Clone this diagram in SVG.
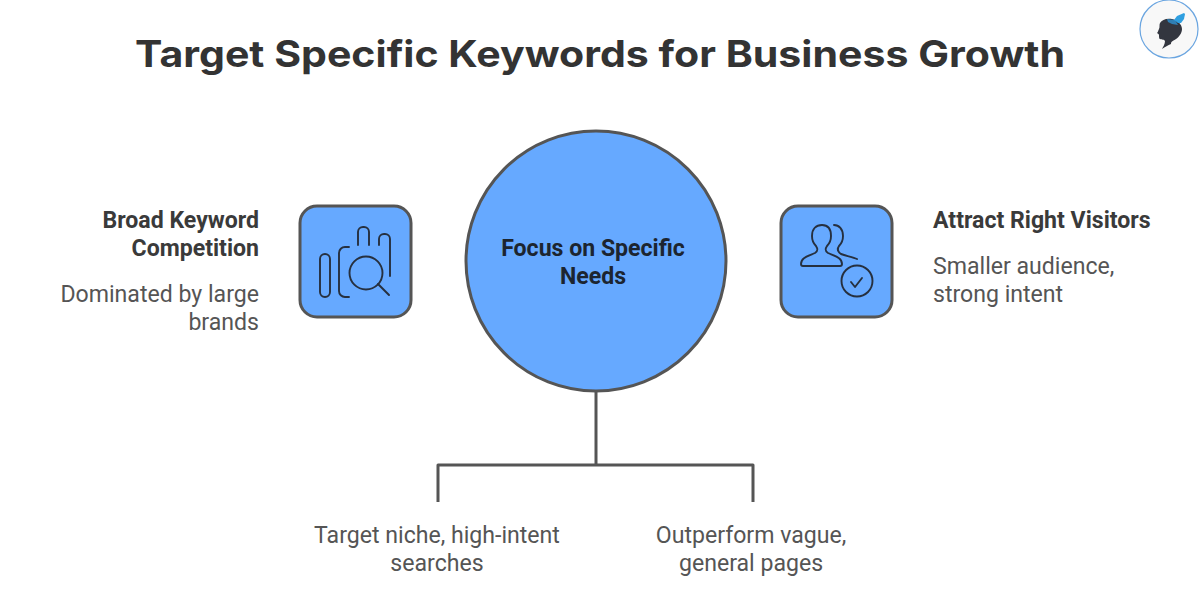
<svg xmlns="http://www.w3.org/2000/svg" width="1200" height="600" viewBox="0 0 1200 600">
<style>
text{font-family:Roboto,"Liberation Sans",sans-serif;font-size:23.1px;fill:#555555}
.b{font-weight:700;fill:#3a3a3a}
.r{text-anchor:end}
.m{text-anchor:middle}
.ic{fill:none;stroke:#26303f;stroke-width:1.9;stroke-linecap:round;stroke-linejoin:round}
.box{fill:#66a9ff;stroke:#555555;stroke-width:3}
.cn{fill:none;stroke:#555555;stroke-width:3;stroke-linejoin:round}
</style>
<rect width="1200" height="600" fill="#ffffff"/>
<text id="title" x="600" y="67" class="m" style="font-family:Inter,'Open Sans',sans-serif;font-size:37px;font-weight:650;fill:#333333" textLength="930" lengthAdjust="spacingAndGlyphs">Target Specific Keywords for Business Growth</text>
<g id="connectors">
<path class="cn" d="M596 390V465"/>
<path class="cn" d="M438 502V465H753V502"/>
</g>
<g id="center">
<circle cx="596" cy="261" r="130" fill="#66a9ff" stroke="#555555" stroke-width="3"/>
<text class="b m" x="593" y="255.5" style="fill:#1c2530">Focus on Specific</text>
<text class="b m" x="593" y="283.5" style="fill:#1c2530">Needs</text>
</g>
<g id="left-node">
<rect class="box" x="300" y="206" width="111" height="111" rx="17"/>
<path class="ic" d="M320 259a5 5 0 0 1 10 0v33a5 5 0 0 1-10 0z"/>
<path class="ic" d="M349 247h-4a6 6 0 0 0-6 6v38a6 6 0 0 0 6 6h4"/>
<path class="ic" d="M358 245v-13a5 5 0 0 1 5-5h1a5 5 0 0 1 5 5v13"/>
<path class="ic" d="M379 245v-6a5 5 0 0 1 5-5h1a5 5 0 0 1 5 5v37"/>
<circle class="ic" cx="366" cy="273" r="16.5"/>
<path class="ic" d="M378 284l11 11"/>
</g>
<g id="left-text">
<text class="b r" x="259" y="227.5">Broad Keyword</text>
<text class="b r" x="259" y="255.5">Competition</text>
<text class="r" x="259" y="301.5">Dominated by large</text>
<text class="r" x="259" y="329.5">brands</text>
</g>
<g id="right-node">
<rect class="box" x="781" y="206" width="111" height="111" rx="17"/>
<path class="ic" d="M801 264c0-7 8-8 14-11 3-2 3-4 1-7-3-3-4-6-4-10 0-7 4-11 10-11s9 4 9 11c0 4-1 7-4 10-2 3-2 5 1 7 6 3 14 4 14 11 0 1-1 2-2 2h-37c-1 0-2-1-2-2z"/>
<path class="ic" d="M834 225c5 0 9 4 9 11 0 4-1 7-4 10-2 3-1 6 2 8 5 2 12 3 16 5"/>
<circle class="ic" cx="857" cy="281" r="15.5"/>
<path class="ic" d="M851 282l4 5 7-9"/>
</g>
<g id="right-text">
<text class="b" x="933" y="227.5">Attract Right Visitors</text>
<text x="933" y="273.5">Smaller audience,</text>
<text x="933" y="301.5">strong intent</text>
</g>
<g id="bottom-left">
<text class="m" x="437" y="542.5">Target niche, high-intent</text>
<text class="m" x="437" y="570.5">searches</text>
</g>
<g id="bottom-right">
<text class="m" x="751" y="542.5">Outperform vague,</text>
<text class="m" x="751" y="570.5">general pages</text>
</g>
<g id="logo">
<circle cx="1169" cy="29" r="29" fill="#f8f8f8" stroke="#6aa5e0" stroke-width="1.2"/>
<path d="M1172 19c-6-1-10 1-12 4-1 2 0 4-1 6-1 2-1 3-2 4 1 1 2 1 2 2 0 2 0 4 1 4 2 1 4 0 5 2 0 3-2 6-3 8 3-2 6-4 9-5 0-3 2-3 5-5 3-2 6-6 6-10 0-5-5-9-10-10z" fill="#33363f"/>
<path d="M1167 19l8 1 3 5-6-1-4-2z" fill="#2f7fb5"/>
<path d="M1174 20l3-4 7-3 1 1-1 5-3 4h-3z" fill="#2f9fe0"/>
</g>
</svg>
